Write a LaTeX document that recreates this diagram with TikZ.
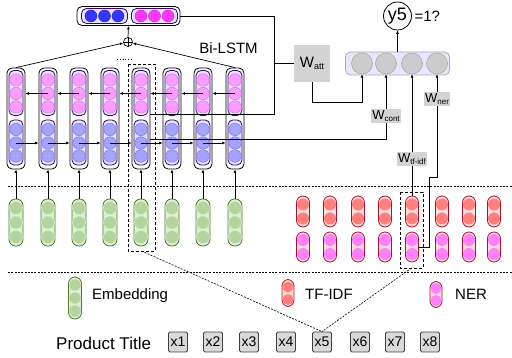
\documentclass[tikz,border=0pt]{standalone}
\usepackage{fontspec}
\setmainfont{Liberation Sans}
\usetikzlibrary{arrows.meta}
\definecolor{lstmedge}{HTML}{3C0078}
\definecolor{lstmfill}{HTML}{E4E4FF}
\definecolor{pinkdot}{HTML}{FF9CFF}
\definecolor{pinkdotb}{HTML}{D070E0}
\definecolor{bluedot}{HTML}{A4A4FF}
\definecolor{bluedotb}{HTML}{7474D8}
\definecolor{strongblue}{HTML}{3535FF}
\definecolor{strongmag}{HTML}{FF35FF}
\definecolor{embfill}{HTML}{DDEED2}
\definecolor{embedge}{HTML}{4A7A2A}
\definecolor{embdot}{HTML}{B3D49C}
\definecolor{redge}{HTML}{B0102A}
\definecolor{rfill}{HTML}{FFDCDC}
\definecolor{tfdot}{HTML}{FF7F7F}
\definecolor{nerdot}{HTML}{FF80FF}
\definecolor{ovfill}{HTML}{E6E6FF}
\definecolor{ovedge}{HTML}{A8A8C0}
\definecolor{ocfill}{HTML}{CCCCCC}
\definecolor{ocedge}{HTML}{B4A488}
\definecolor{wgray}{HTML}{D3D3D3}
\definecolor{xgray}{HTML}{D9D9D9}
\begin{document}
\begin{tikzpicture}[x=1pt,y=-1pt,
  arr/.style={-{Latex[length=3.5pt,width=3pt]}, line width=0.7pt},
  conn/.style={line width=0.7pt},
  outerbox/.style={draw, fill=white, rounded corners=5pt, line width=0.8pt, inner sep=0pt},
  innerbox/.style={draw=lstmedge, fill=lstmfill, rounded corners=5pt, line width=0.8pt, inner sep=0pt, minimum width=14pt, minimum height=45pt},
  pdot/.style={circle, fill=pinkdot, draw=pinkdotb, line width=0.4pt, minimum size=12.5pt, inner sep=0pt},
  bdot/.style={circle, fill=bluedot, draw=bluedotb, line width=0.4pt, minimum size=12.5pt, inner sep=0pt},
  sbdot/.style={circle, fill=strongblue, draw=strongblue!70!black, line width=0.4pt, minimum size=12pt, inner sep=0pt},
  smdot/.style={circle, fill=strongmag, draw=strongmag!80!black, line width=0.4pt, minimum size=12pt, inner sep=0pt},
  embpill/.style={draw=embedge, fill=embfill, rounded corners=6.5pt, line width=0.8pt, inner sep=0pt, minimum width=14pt},
  edot/.style={circle, fill=embdot, draw=embfill, line width=0.4pt, minimum size=13pt, inner sep=0pt},
  rpill/.style={draw=redge, fill=rfill, rounded corners=6.5pt, line width=0.8pt, inner sep=0pt, minimum width=13pt},
  tdot/.style={circle, fill=tfdot, minimum size=12pt, inner sep=0pt},
  ndot/.style={circle, fill=nerdot, minimum size=12pt, inner sep=0pt},
  odot/.style={circle, fill=ocfill, draw=ocedge, line width=0.5pt, minimum size=21pt, inner sep=0pt},
  wlab/.style={fill=wgray, inner sep=1.5pt, font=\fontsize{13}{14}\selectfont},
  xbox/.style={draw=black!75, fill=xgray, rounded corners=1.5pt, line width=0.8pt, minimum width=19pt, minimum height=20pt, inner sep=0pt, font=\fontsize{14}{15}\selectfont},
  dline/.style={line width=0.6pt, dash pattern=on 2pt off 1.3pt},
  dbox/.style={line width=0.7pt, dash pattern=on 3pt off 2pt},
  lab/.style={font=\fontsize{15}{17}\selectfont, inner sep=0pt}
]
\useasboundingbox (0,0) rectangle (512,358);

% separator lines
\draw[dline] (8,186) -- (512,186);
\draw[dline] (8,272) -- (512,272);

% Bi-LSTM columns and embeddings
\foreach \x [count=\i] in {16,48,79,110,141,172,203,235} {
  \node[outerbox, minimum width=18pt, minimum height=101pt] (c\i) at (\x,118.5) {};
  \node[innerbox] (p\i) at (\x,93) {};
  \node[innerbox] (b\i) at (\x,142.5) {};
  \foreach \yy [count=\k] in {80,93.5,107} \node[pdot] (pc\i-\k) at (\x,\yy) {};
  \foreach \yy [count=\k] in {129.5,143,156} \node[bdot] (bc\i-\k) at (\x,\yy) {};
  \node[embpill, minimum height=47pt] (e\i) at (\x,222.5) {};
  \foreach \yy [count=\k] in {208,222.5,237} \node[edot] (ec\i-\k) at (\x,\yy) {};
}
\foreach \i in {1,...,8} \draw[arr] (e\i.north) -- (c\i.south);
% forward (blue) and backward (pink) recurrences
\foreach \i/\j in {1/2,2/3,3/4,4/5,5/6,6/7,7/8} {
  \draw[arr] (bc\i-2.center) -- (c\j.west |- bc\i-2.center);
  \draw[arr] (pc\j-2.center) -- (c\i.east |- pc\j-2.center);
}

% top concatenated vector
\node[outerbox, minimum width=103pt, minimum height=19pt] (tv) at (128.5,16) {};
\node[draw=lstmedge, fill=lstmfill, rounded corners=5pt, line width=0.8pt, minimum width=46pt, minimum height=15pt, inner sep=0pt] (tvb) at (104.5,16) {};
\node[draw=lstmedge, fill=lstmfill, rounded corners=5pt, line width=0.8pt, minimum width=46pt, minimum height=15pt, inner sep=0pt] (tvm) at (154.5,16) {};
\foreach \x [count=\k] in {91,104.5,118} \node[sbdot] (tb\k) at (\x,16) {};
\foreach \x [count=\k] in {141,154.5,168} \node[smdot] (tm\k) at (\x,16) {};

% concat operator
\node[circle, draw, line width=0.7pt, minimum size=9pt, inner sep=0pt] (plus) at (128,42) {};
\draw[line width=0.6pt] (plus.north) -- (plus.south) (plus.west) -- (plus.east);
\draw[arr] (c1.north) -- (plus);
\draw[arr] (c8.north) -- (plus);
\draw[arr] (plus.north) -- (tv.south);
\node[lab] (bilstm) at (228.5,48) {Bi-LSTM};

% column-5 highlight
\draw[dotted, line width=0.8pt] (117,59) -- (133,59);
\draw[dbox] (128,64) rectangle (155,251);
\coordinate (db1) at (141.5,251);

% output vector and y5
\node[draw=ovedge, fill=ovfill, rounded corners=5pt, line width=0.8pt, minimum width=104pt, minimum height=23pt, inner sep=0pt] (ov) at (397.5,63.5) {};
\foreach \x [count=\k] in {362,386,412,437} \node[odot] (o\k) at (\x,63.5) {};
\node[circle, draw, line width=0.8pt, minimum size=28pt, inner sep=0pt, font=\fontsize{18}{20}\selectfont] (y5) at (397.5,16) {y5};
\node[lab, anchor=west] (eq) at (y5.east) {\,=1?};
\draw[arr] (ov.north) -- (y5.south);

% attention path
\node[fill=wgray, minimum width=36pt, minimum height=37pt, inner sep=0pt, font=\fontsize{15}{16}\selectfont] (watt) at (312,63.5) {W\raisebox{-1.5pt}{\fontsize{9}{10}\selectfont att}};
\coordinate (j0) at (274,16);
\coordinate (j1) at (274,114);
\draw[conn] (tv.east) -- (j0) -- (j1) -- (c5.east |- j1);
\draw[conn] (j1 |- watt.west) -- (watt.west);
\coordinate (k1) at (312,102);
\draw[arr] (watt.south) -- (k1) -| (o1.south);

% context path
\coordinate (wc) at (386,139);
\draw[arr] (c5.east |- wc) -- (wc) -- (o2.south);
\node[wlab] (wcont) at (386,116) {W\raisebox{-1.5pt}{\fontsize{8}{9}\selectfont cont}};

% TF-IDF and NER pills
\foreach \x [count=\i] in {303,330,358,385,412,442,469,494} {
  \node[rpill, minimum height=31pt] (t\i) at (\x,211.5) {};
  \node[tdot] (tc\i-1) at (\x,204.5) {};
  \node[tdot] (tc\i-2) at (\x,218.5) {};
  \node[rpill, minimum height=30pt] (n\i) at (\x,247) {};
  \node[ndot] (nc\i-1) at (\x,240) {};
  \node[ndot] (nc\i-2) at (\x,254) {};
}
\draw[dbox] (400,192) rectangle (423,268);
\coordinate (db2) at (411.5,268);

% tf-idf path
\draw[arr] (t5.north) -- (o3.south);
\node[wlab] (wtf) at (412,159) {W\raisebox{-1.5pt}{\fontsize{8}{9}\selectfont tf-idf}};

% ner path
\coordinate (nr1) at (429,247);
\coordinate (nr2) at (429,177);
\coordinate (nr3) at (437,177);
\draw[arr] (n5.east) -- (nr1) -- (nr2) -- (nr3) -- (o4.south);
\node[wlab] (wner) at (437,99) {W\raisebox{-1.5pt}{\fontsize{8}{9}\selectfont ner}};

% legend
\node[embpill, minimum width=13pt, minimum height=42pt] (le) at (75,298) {};
\foreach \yy [count=\k] in {285,298,311} \node[edot, minimum size=12pt] (lec\k) at (75,\yy) {};
\node[lab, anchor=west] (lt1) at (92,296) {Embedding};
\node[rpill, minimum width=12pt, minimum height=27pt] (lt) at (288,293) {};
\node[tdot, minimum size=11pt] (ltc1) at (288,287) {};
\node[tdot, minimum size=11pt] (ltc2) at (288,299.5) {};
\node[lab, anchor=west] (lt2) at (305,294) {TF-IDF};
\node[rpill, minimum width=12pt, minimum height=26pt] (ln) at (436,294.5) {};
\node[ndot, minimum size=11pt] (lnc1) at (436,288.5) {};
\node[ndot, minimum size=11pt] (lnc2) at (436,300.5) {};
\node[lab, anchor=west] (lt3) at (455,294) {NER};

% product title
\node[font=\fontsize{17}{19}\selectfont, inner sep=0pt, anchor=west] (pt) at (56,343) {Product Title};
\foreach \x [count=\i] in {178,213,249,286,322,360,395,430} \node[xbox] (x\i) at (\x,342) {x\i};
\draw[dline] (db1) -- (x5.north);
\draw[dline] (db2) -- (x5.north);
\end{tikzpicture}
\end{document}
